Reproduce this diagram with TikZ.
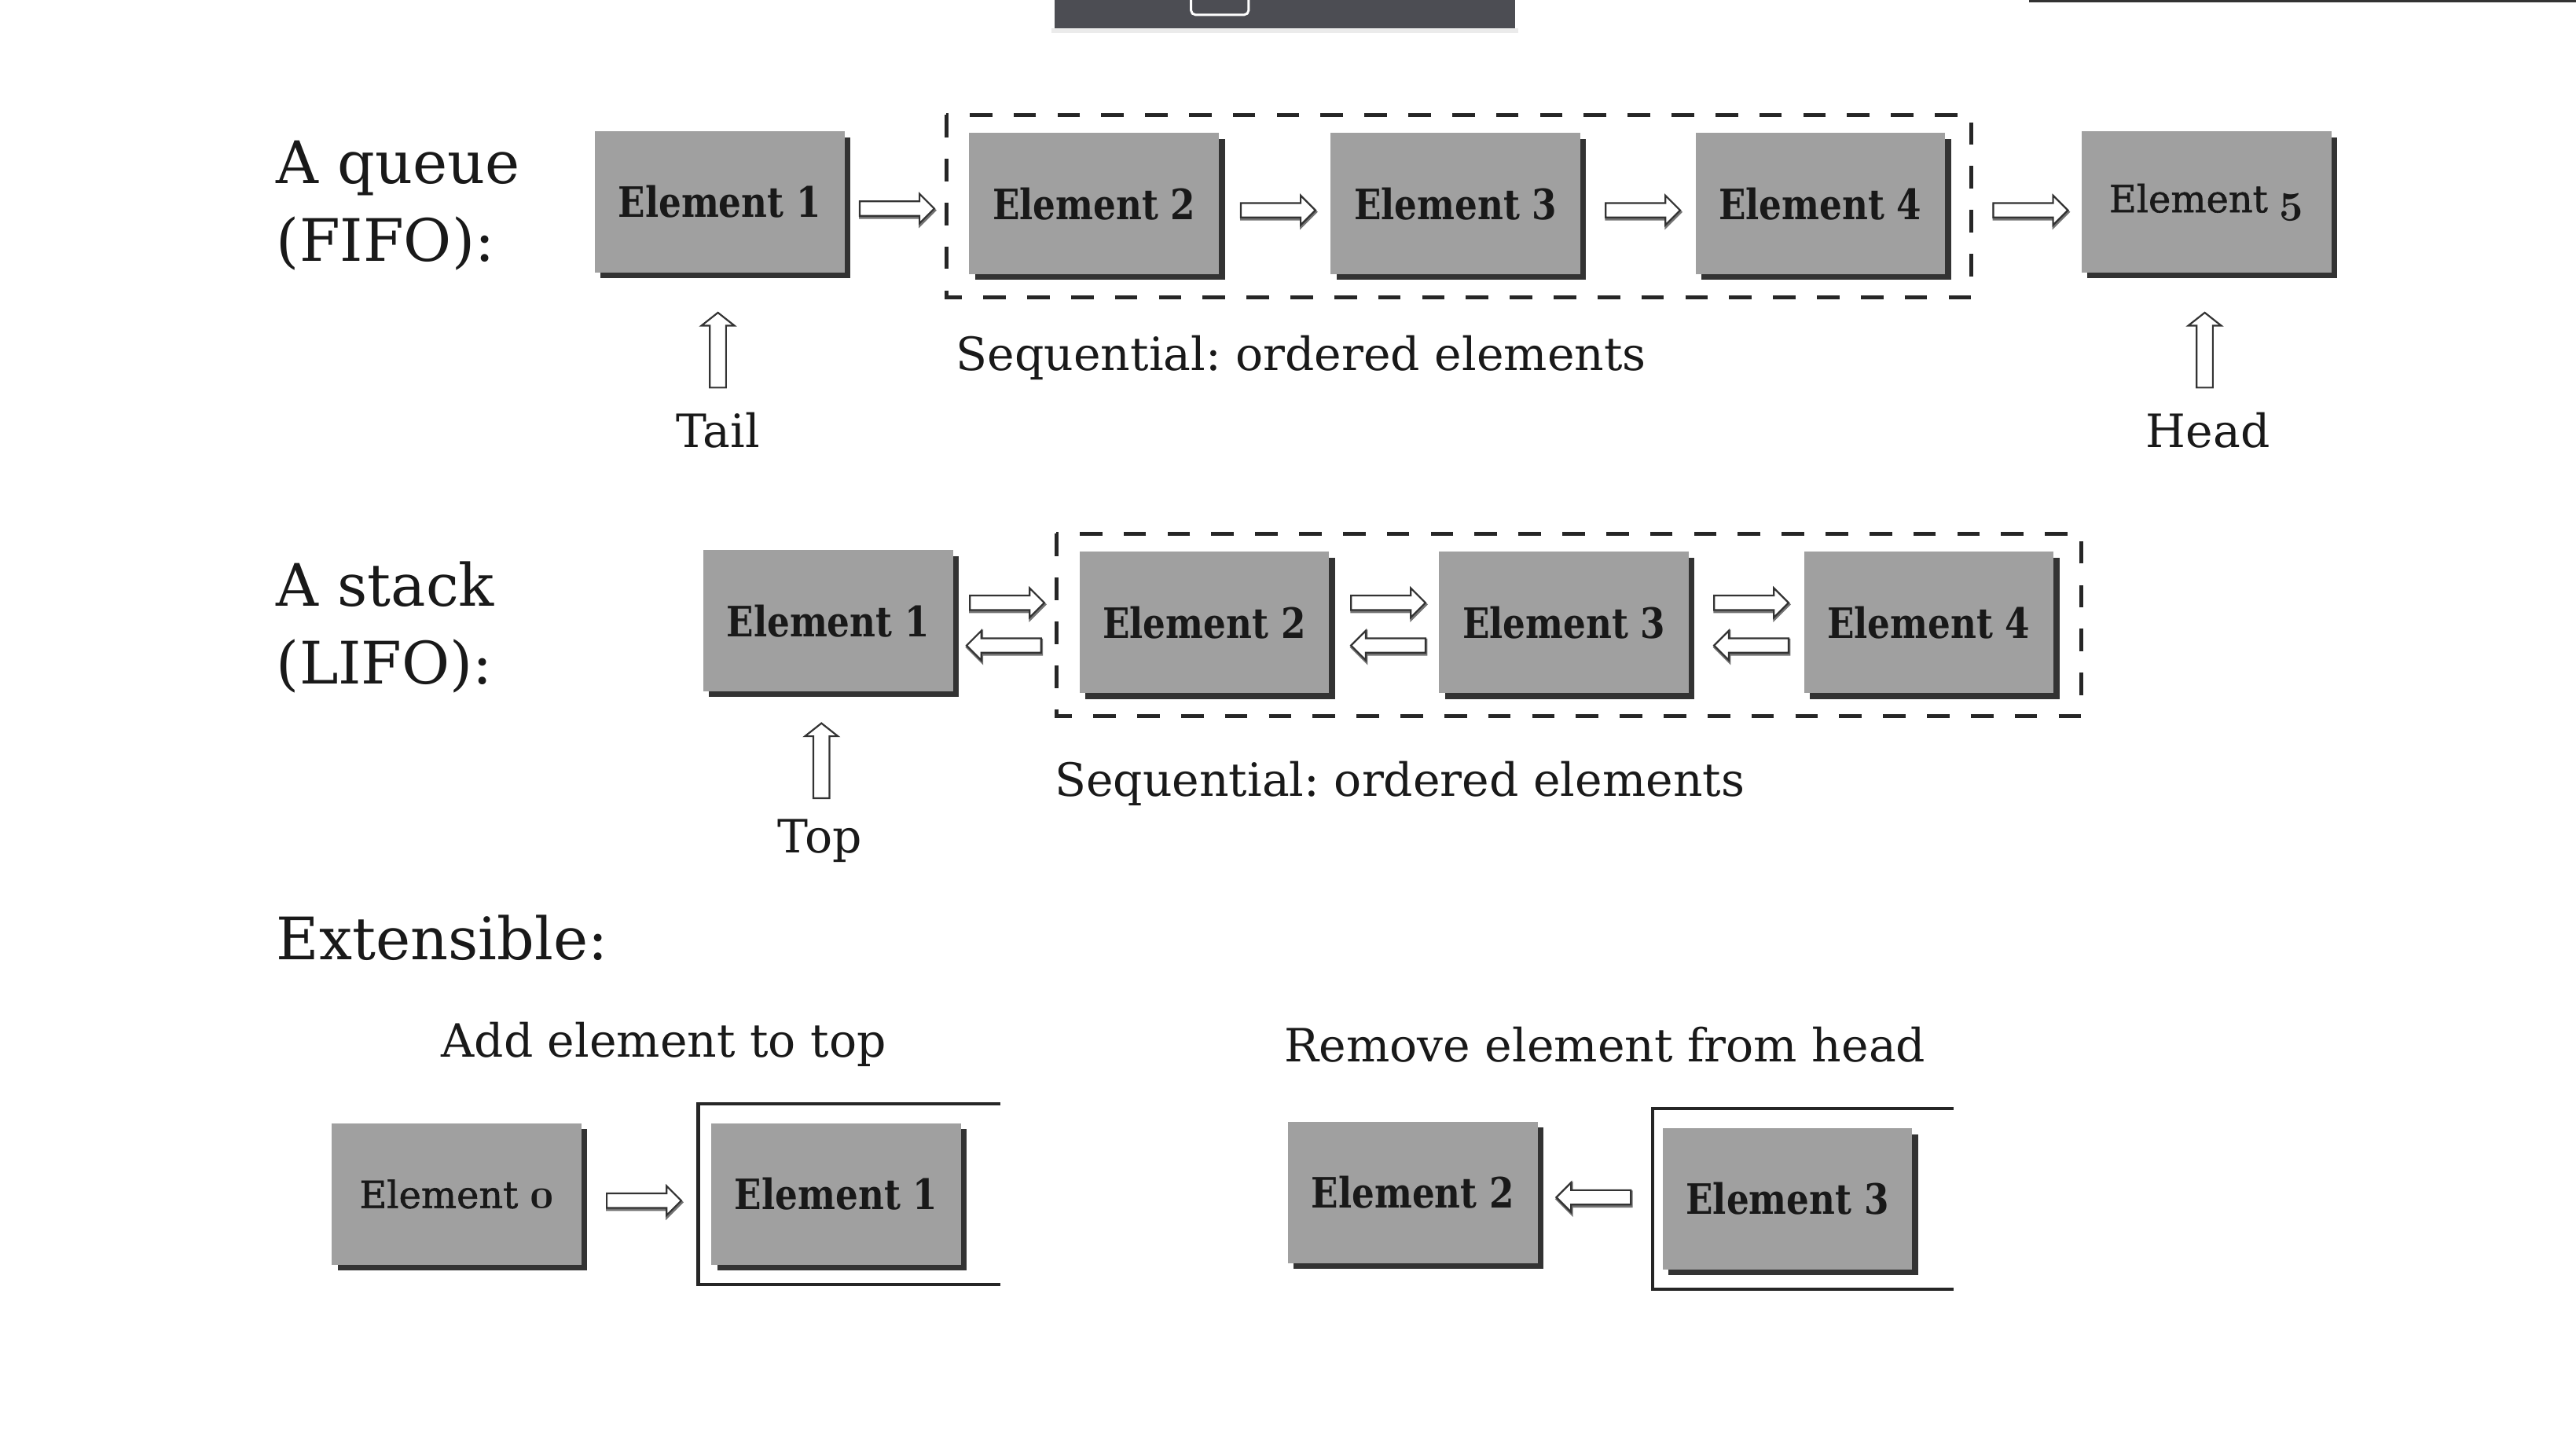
\documentclass[tikz,border=0pt]{standalone}
\usepackage{fontspec}
\setmainfont{DejaVu Serif}
\newfontfamily\elemfont{DejaVu Serif}[FakeStretch=0.85]
\newfontfamily\altfont{DejaVu Serif}[FakeBold=1.2]
\usetikzlibrary{calc}
\definecolor{boxgray}{RGB}{160,160,160}
\definecolor{ink}{RGB}{25,25,25}
\definecolor{barcol}{RGB}{76,77,83}
\newcommand\osnum[1]{{\fontsize{14.4}{16}\usefont{OML}{cmm}{b}{it}#1}}
\frenchspacing
\tikzset{
  elem/.style={rectangle, fill=boxgray, inner sep=0pt, minimum width=3.04cm, minimum height=1.72cm,
    text=ink, font=\elemfont\bfseries\fontsize{14.5}{16}\selectfont,
    preaction={fill=black!80, transform canvas={shift={(0.07cm,-0.07cm)}}}},
  elemalt/.style={font=\altfont\fontsize{13}{15}\selectfont},
  lbl/.style={text=ink, inner sep=0pt, font=\fontsize{15.9}{18}\selectfont},
  big/.style={text=ink, inner sep=0pt, anchor=west, align=left, font=\fontsize{20.3}{27}\selectfont},
  harrow/.style={draw=black!80, fill=white, line width=0.6pt, line join=miter,
    preaction={draw=black!55, line width=0.9pt, transform canvas={shift={(0.2pt,-0.6pt)}}},
    to path={let \p1=(\tikztostart), \p2=(\tikztotarget), \n1={(\x2-\x1)/abs(\x2-\x1)} in
      (\x1,\y1-2.5pt) -- ({\x2-(\n1)*5.1pt},\y1-2.5pt) -- ({\x2-(\n1)*5.1pt},\y1-5.1pt) -- (\x2,\y1)
      -- ({\x2-(\n1)*5.1pt},\y1+5.1pt) -- ({\x2-(\n1)*5.1pt},\y1+2.5pt) -- (\x1,\y1+2.5pt) -- cycle}},
  varrow/.style={draw=black!80, fill=white, line width=0.6pt, line join=miter,
    to path={let \p1=(\tikztostart), \p2=(\tikztotarget), \n1={(\y2-\y1)/abs(\y2-\y1)} in
      (\x1-2.8pt,\y1) -- (\x1-2.8pt,{\y2-(\n1)*4.5pt}) -- (\x1-5.7pt,{\y2-(\n1)*4.5pt}) -- (\x1,\y2)
      -- (\x1+5.7pt,{\y2-(\n1)*4.5pt}) -- (\x1+2.8pt,{\y2-(\n1)*4.5pt}) -- (\x1+2.8pt,\y1) -- cycle}},
  dashbox/.style={draw=black!85, line width=1.4pt, dash pattern=on 7.8pt off 7.4pt},
  bracket/.style={draw=black!85, line width=1.1pt},
}
\begin{document}
\begin{tikzpicture}[x=0.02cm, y=-0.02cm]
\useasboundingbox (0,0) rectangle (1568,879);
\fill[white] (0,0) rectangle (1568,879);
% screen artefacts at the top
\fill[black!8] (640,17) rectangle (924,20);
\fill[barcol] (642,0) rectangle (922,17);
\draw[white, line width=0.8pt, rounded corners=1.5pt] (725,-4) rectangle (760,9);
\fill[black!80] (1235,0) rectangle (1568,1.6);

% labels
\node[big] (qlbl) at (168,125) {A queue\\(FIFO):};
\node[big] (slbl) at (168,382) {A stack\\(LIFO):};
\node[big] (ext) at (168,571) {Extensible:};

% queue
\node[elem] (q1) at (438,123) {Element 1};
\node[elem] (q2) at (666,124) {Element 2};
\node[elem] (q3) at (886,124) {Element 3};
\node[elem] (q4) at (1108,124) {Element 4};
\node[elem, elemalt] (q5) at (1343,123) {Element \osnum{5}};
\draw[dashbox] (576,70) rectangle (1200,181);
\draw[harrow] ([shift={(9,4)}]q1.east) to ([shift={(-21,4)}]q2.west);
\draw[harrow] ([shift={(13,4)}]q2.east) to ([shift={(-9,4)}]q3.west);
\draw[harrow] ([shift={(15,4)}]q3.east) to ([shift={(-9,4)}]q4.west);
\draw[harrow] ([shift={(29,4)}]q4.east) to ([shift={(-8,4)}]q5.west);
\node[lbl] (qseq) at (792,218) {Sequential: ordered elements};
\node[lbl] (tail) at (437,262) {Tail};
\node[lbl] (head) at (1344,262) {Head};
\coordinate (tailfoot) at (437,236);
\coordinate (headfoot) at (1342,236);
\draw[varrow] (tailfoot) to ([shift={(-1,24)}]q1.south);
\draw[varrow] (headfoot) to ([shift={(-1,24)}]q5.south);

% stack
\node[elem] (s1) at (504,378) {Element 1};
\node[elem] (s2) at (733,379) {Element 2};
\node[elem] (s3) at (952,379) {Element 3};
\node[elem] (s4) at (1174,379) {Element 4};
\draw[dashbox] (643,325) rectangle (1267,436);
\draw[harrow] ([shift={(10,-11)}]s1.east) to ([shift={(-21,-12)}]s2.west);
\draw[harrow] ([shift={(-23,14)}]s2.west) to ([shift={(8,15)}]s1.east);
\draw[harrow] ([shift={(13,-12)}]s2.east) to ([shift={(-8,-12)}]s3.west);
\draw[harrow] ([shift={(-8,14)}]s3.west) to ([shift={(13,14)}]s2.east);
\draw[harrow] ([shift={(15,-12)}]s3.east) to ([shift={(-9,-12)}]s4.west);
\draw[harrow] ([shift={(-9,14)}]s4.west) to ([shift={(15,14)}]s3.east);
\node[lbl] (sseq) at (852,477) {Sequential: ordered elements};
\node[lbl] (top) at (499,512) {Top};
\coordinate (topfoot) at (500,486);
\draw[varrow] (topfoot) to ([shift={(-4,19)}]s1.south);

% extensible
\node[lbl] (addl) at (404,636) {Add element to top};
\node[lbl] (reml) at (977,636) {Remove element from head};
\node[elem, elemalt] (x0) at (278,727) {Element \osnum{0}};
\node[elem] (x1) at (509,727) {Element 1};
\draw[bracket] (609,672) -- (425,672) -- (425,782) -- (609,782);
\draw[harrow] ([shift={(15,4)}]x0.east) to ([shift={(-18,4)}]x1.west);
\node[elem] (x2) at (860,726) {Element 2};
\node[elem] (x3) at (1088,730) {Element 3};
\draw[bracket] (1189,675) -- (1006,675) -- (1006,785) -- (1189,785);
\draw[harrow] ([shift={(-19,-1)}]x3.west) to ([shift={(11,3)}]x2.east);
\end{tikzpicture}
\end{document}
